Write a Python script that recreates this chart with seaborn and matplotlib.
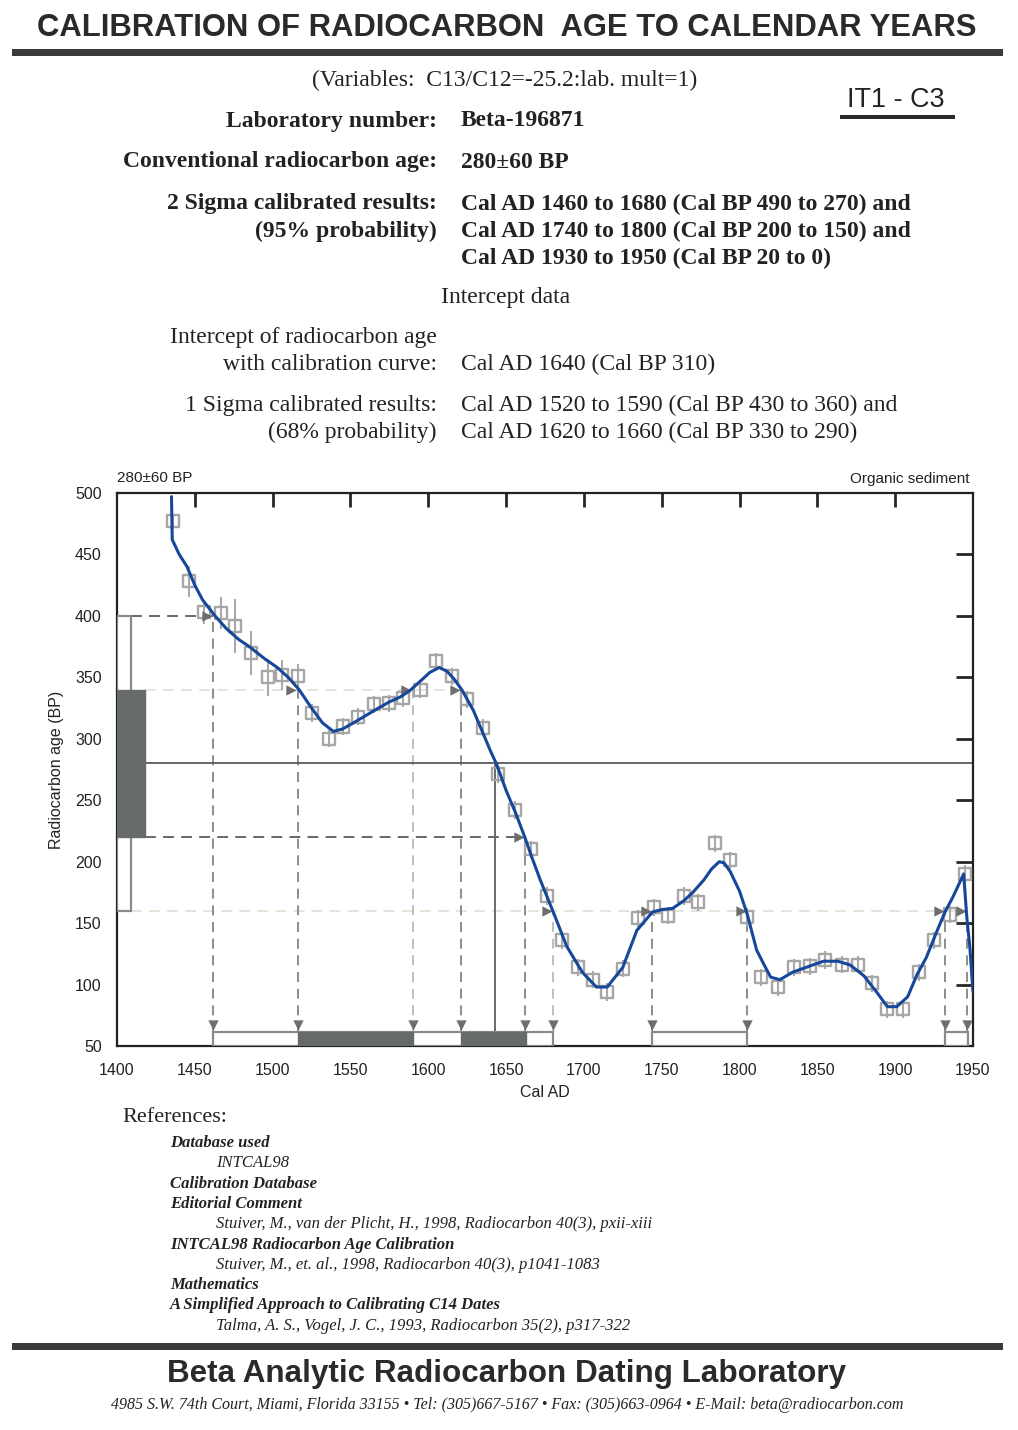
import numpy as np
import pandas as pd
import matplotlib
matplotlib.use("Agg")
import matplotlib.pyplot as plt
import seaborn as sns
from matplotlib import font_manager
from matplotlib.patches import Rectangle

# ---------------- data ----------------
curve_year = [1435, 1435.5, 1440, 1445, 1450, 1455, 1463, 1470, 1478, 1485, 1495, 1503,
              1510, 1517, 1525, 1532, 1539, 1545, 1552, 1560, 1568, 1575, 1582, 1588,
              1595, 1601, 1607, 1612, 1617, 1622, 1629, 1635, 1640, 1644, 1650, 1656,
              1662, 1667, 1672, 1680, 1689, 1699, 1708, 1715, 1725, 1734, 1744, 1750,
              1757, 1764, 1770, 1777, 1782, 1787, 1790, 1794, 1800, 1805, 1811, 1815,
              1820, 1826, 1834, 1845, 1854, 1863, 1871, 1880, 1888, 1895, 1901, 1908,
              1914, 1920, 1927, 1932, 1937, 1944, 1946, 1948, 1950]
curve_bp = [497, 462, 450, 440, 425, 413, 400, 390, 381, 375, 365, 358,
            350, 340, 325, 313, 306, 308, 313, 319, 325, 330, 334, 339,
            347, 354, 358, 355, 348, 339, 323, 305, 290, 279, 258, 240,
            220, 202, 185, 160, 131, 110, 98, 98, 114, 144, 159, 161,
            162, 168, 175, 185, 194, 200, 199, 192, 176, 157, 128, 118,
            106, 104, 110, 115, 119, 119, 116, 107, 94, 82, 82, 90,
            108, 122, 144, 159, 171, 190, 155, 130, 94]

point_year = [1436, 1446, 1456, 1467, 1476, 1486, 1497, 1506, 1516, 1525, 1536, 1545,
              1555, 1565, 1575, 1584, 1595, 1605, 1615, 1625, 1635, 1645, 1656, 1666,
              1676, 1686, 1696, 1706, 1715, 1725, 1735, 1745, 1754, 1764, 1773, 1784,
              1794, 1805, 1814, 1825, 1835, 1845, 1855, 1866, 1876, 1885, 1895, 1905,
              1915, 1925, 1935, 1945]
point_bp = [477, 428, 403, 402, 392, 370, 350, 352, 351, 321, 300, 310,
            318, 328, 329, 333, 340, 363, 351, 332, 309, 271, 242, 210,
            172, 136, 114, 104, 94, 113, 154, 163, 156, 172, 167, 215,
            201, 155, 106, 98, 114, 115, 120, 116, 116, 101, 80, 80,
            110, 136, 157, 190]
point_err = [6, 13, 10, 13, 22, 18, 15, 12, 10, 7, 7, 7,
             7, 7, 7, 7, 7, 7, 7, 7, 7, 7, 7, 7,
             7, 7, 7, 7, 7, 7, 7, 7, 7, 7, 7, 7,
             7, 7, 7, 7, 7, 7, 7, 7, 7, 7, 7, 7,
             7, 7, 7, 7]

sample_age = 280
one_sigma_bp = (220, 340)
two_sigma_bp = (160, 400)
two_sigma_ranges = [(1462, 1680), (1744, 1805), (1932, 1947)]
one_sigma_ranges = [(1516, 1590), (1621, 1663)]
intercept_year = 1643
cross_year = [1462, 1516, 1590, 1621, 1662, 1680, 1744, 1805, 1932, 1946]
cross_bp = [400, 340, 340, 340, 220, 160, 160, 160, 160, 160]
cross_faint = [False, False, True, False, False, True, False, False, False, False]
level_bp = [400, 220, 340, 160]
level_start = [1409, 1418, 1418, 1409]
level_end = [1462, 1662, 1621, 1946]
level_faint = [False, False, True, True]

x_ticks = list(range(1400, 1951, 50))
y_ticks = list(range(50, 501, 50))

# ---------------- style ----------------
sns.set_theme(style="white")
names = {f.name for f in font_manager.fontManager.ttflist}
SANS = "Liberation Sans" if "Liberation Sans" in names else "DejaVu Sans"
NARROW = "Liberation Sans Narrow" if "Liberation Sans Narrow" in names else SANS
SERIF = "Liberation Serif" if "Liberation Serif" in names else "DejaVu Serif"
plt.rcParams["font.family"] = [SANS, "DejaVu Sans"]

W, H = 1018, 1430
fig = plt.figure(figsize=(W / 100, H / 100), dpi=100)
fig.patch.set_facecolor("white")


def fx(x):
    return x / W


def fy(y):
    return 1 - y / H


def ftext(x, y, s, **kw):
    return fig.text(fx(x), fy(y), s, **kw)


renderer = fig.canvas.get_renderer()


def fit(t, target):
    w = t.get_window_extent(renderer).width
    t.set_fontsize(t.get_fontsize() * target / w)


TXT = "#222222"
FS = 17

# ---------------- header ----------------
t = ftext(507, 28, "CALIBRATION OF RADIOCARBON  AGE TO CALENDAR YEARS", family=NARROW,
          weight="bold", fontsize=23, ha="center", va="center", color="#2a2a2a")
fit(t, 943)
fig.add_artist(Rectangle((fx(12), fy(56)), fx(991), 7 / H, transform=fig.transFigure,
                         color="#3a3a3a", lw=0))

ftext(505, 80, "(Variables:  C13/C12=-25.2:lab. mult=1)", family=SERIF, fontsize=FS,
      ha="center", va="center", color=TXT)
t = ftext(896, 100, "IT1 - C3", family=SANS, fontsize=16, ha="center", va="center", color=TXT)
fit(t, 97)
fig.add_artist(Rectangle((fx(840), fy(119)), fx(115), 4 / H, transform=fig.transFigure,
                         color="#2a2a2a", lw=0))

LX, RX = 437, 461
bold_rows = [
    (121, "Laboratory number:", "Beta-196871"),
    (162, "Conventional radiocarbon age:", "280±60 BP"),
    (204, "2 Sigma calibrated results:", "Cal AD 1460 to 1680 (Cal BP 490 to 270) and"),
    (231, "(95% probability)", "Cal AD 1740 to 1800 (Cal BP 200 to 150) and"),
    (258, "", "Cal AD 1930 to 1950 (Cal BP 20 to 0)"),
]
for y, lab, val in bold_rows:
    if lab:
        ftext(LX, y, lab, family=SERIF, weight="bold", fontsize=FS, ha="right",
              va="center", color=TXT)
    ftext(RX, y, val, family=SERIF, weight="bold", fontsize=FS, ha="left",
          va="center", color=TXT)

ftext(506, 298, "Intercept data", family=SERIF, fontsize=FS, ha="center", va="center",
      color=TXT)
reg_rows = [
    (337, "Intercept of radiocarbon age", ""),
    (364, "with calibration curve:", "Cal AD 1640 (Cal BP 310)"),
    (405, "1 Sigma calibrated results:", "Cal AD 1520 to 1590 (Cal BP 430 to 360) and"),
    (432, "(68% probability)", "Cal AD 1620 to 1660 (Cal BP 330 to 290)"),
]
for y, lab, val in reg_rows:
    ftext(LX, y, lab, family=SERIF, fontsize=FS, ha="right", va="center", color=TXT)
    if val:
        ftext(RX, y, val, family=SERIF, fontsize=FS, ha="left", va="center", color=TXT)

# ---------------- chart ----------------
ax = fig.add_axes([fx(117), fy(1046), fx(856), 553 / H])
ax.set_xlim(1400, 1950)
ax.set_ylim(50, 500)

DARK = "#666b6a"
EDGE = "#8a8a8a"
DASH = "#5c5c5c"
FAINT = "#e2e2d6"
ARROW = "#6e6e6e"

# left age boxes
ax.add_patch(Rectangle((1400, two_sigma_bp[0]), 9, two_sigma_bp[1] - two_sigma_bp[0],
                       fc="white", ec=EDGE, lw=1.6, zorder=3))
ax.add_patch(Rectangle((1400, one_sigma_bp[0]), 18, one_sigma_bp[1] - one_sigma_bp[0],
                       fc=DARK, ec=DARK, lw=1, zorder=4))

# bottom calendar boxes
for a, b in two_sigma_ranges:
    ax.add_patch(Rectangle((a, 50), b - a, 11.5, fc="white", ec=EDGE, lw=1.6, zorder=3))
for a, b in one_sigma_ranges:
    ax.add_patch(Rectangle((a, 50), b - a, 11.5, fc=DARK, ec=DARK, lw=1, zorder=4))

# horizontal level lines
for bp, a, b, faint in zip(level_bp, level_start, level_end, level_faint):
    ax.plot([a, b], [bp, bp], color=FAINT if faint else DASH, lw=1.3,
            ls=(0, (6, 4)), zorder=2)

# vertical dashed lines from crossings
for yr, bp, faint in zip(cross_year, cross_bp, cross_faint):
    col = "#b4b4b4" if faint else "#7a7a7a"
    ax.plot([yr, yr], [61.5, bp], color=col, lw=1.2, ls=(0, (6, 4)), zorder=2)

# sample age line and intercept line
ax.plot([1418, 1950], [sample_age, sample_age], color="#5a5a5a", lw=1.3, zorder=2)
ax.plot([intercept_year, intercept_year], [50, sample_age], color="#6a6a6a", lw=1.4, zorder=2)

# data points (error bars + open squares)
pts = pd.DataFrame({"year": point_year, "bp": point_bp, "err": point_err})
ax.vlines(pts["year"], pts["bp"] - pts["err"], pts["bp"] + pts["err"], color="#a9a9a9",
          lw=1.5, zorder=5)
sns.scatterplot(data=pts, x="year", y="bp", marker="s", s=75, facecolors="none",
                edgecolors="#a6a6a6", linewidth=1.7, ax=ax, zorder=5, legend=False)

# calibration curve
curve = pd.DataFrame({"year": curve_year, "bp": curve_bp})
sns.lineplot(data=curve, x="year", y="bp", sort=False, estimator=None, color="#17479a",
             lw=2.2, ax=ax, zorder=7)

# arrowheads
ax.scatter([y - 4 for y in cross_year], cross_bp, marker=">", s=55, color=ARROW,
           zorder=6, linewidths=0)
ax.scatter(cross_year, [67] * len(cross_year), marker="v", s=55, color=ARROW,
           zorder=6, linewidths=0)

# axes styling
for sp in ax.spines.values():
    sp.set_linewidth(1.6)
    sp.set_color("#222222")
ax.set_xticks(x_ticks)
ax.set_yticks(y_ticks)
ax.tick_params(axis="x", direction="out", length=4, width=1.8, labelsize=11.5,
               pad=8, colors="#222222")
ax.tick_params(axis="y", direction="out", length=8, width=1.8, labelsize=11.5,
               pad=3, colors="#222222")
ax.set_xlabel("Cal AD", fontsize=11.5, labelpad=5, color="#222222")
ax.set_ylabel("Radiocarbon age (BP)", fontsize=11.5, labelpad=8, color="#222222")

secx = ax.secondary_xaxis("top")
secx.set_xticks(x_ticks[1:-1])
secx.tick_params(direction="in", length=10, width=2, labeltop=False)
secx.spines["top"].set_visible(False)
secy = ax.secondary_yaxis("right")
secy.set_yticks(y_ticks[1:-1])
secy.tick_params(direction="in", length=12, width=2, labelright=False)
secy.spines["right"].set_visible(False)

ftext(117, 478, "280±60 BP", fontsize=11, ha="left", va="center", color="#222222")
ftext(970, 479, "Organic sediment", fontsize=11, ha="right", va="center", color="#222222")

# ---------------- references ----------------
ftext(122, 1118, "References:", family=SERIF, fontsize=16, ha="left", va="center", color=TXT)
refs = [
    (170, 1143, "Database used", "bold"),
    (216, 1163, "INTCAL98", "normal"),
    (170, 1184, "Calibration Database", "bold"),
    (170, 1204, "Editorial Comment", "bold"),
    (216, 1224, "Stuiver, M., van der Plicht, H., 1998, Radiocarbon 40(3), pxii-xiii", "normal"),
    (170, 1245, "INTCAL98 Radiocarbon Age Calibration", "bold"),
    (216, 1265, "Stuiver, M., et. al., 1998, Radiocarbon 40(3), p1041-1083", "normal"),
    (170, 1285, "Mathematics", "bold"),
    (170, 1305, "A Simplified Approach to Calibrating C14 Dates", "bold"),
    (216, 1326, "Talma, A. S., Vogel, J. C., 1993, Radiocarbon 35(2), p317-322", "normal"),
]
for x, y, s, wt in refs:
    ftext(x, y, s, family=SERIF, style="italic", weight=wt, fontsize=12, ha="left",
          va="center", color=TXT)

# ---------------- footer ----------------
fig.add_artist(Rectangle((fx(12), fy(1350)), fx(991), 7 / H, transform=fig.transFigure,
                         color="#3a3a3a", lw=0))
t = ftext(507, 1374, "Beta Analytic Radiocarbon Dating Laboratory", family=NARROW,
          weight="bold", fontsize=22, ha="center", va="center", color="#2a2a2a")
fit(t, 677)
t = ftext(507, 1405, "4985 S.W. 74th Court, Miami, Florida 33155 • Tel: (305)667-5167 • "
          "Fax: (305)663-0964 • E-Mail: beta@radiocarbon.com", family=SERIF,
          style="italic", fontsize=11, ha="center", va="center", color=TXT)
fit(t, 795)

fig.savefig("out.png", dpi=100, facecolor="white")
